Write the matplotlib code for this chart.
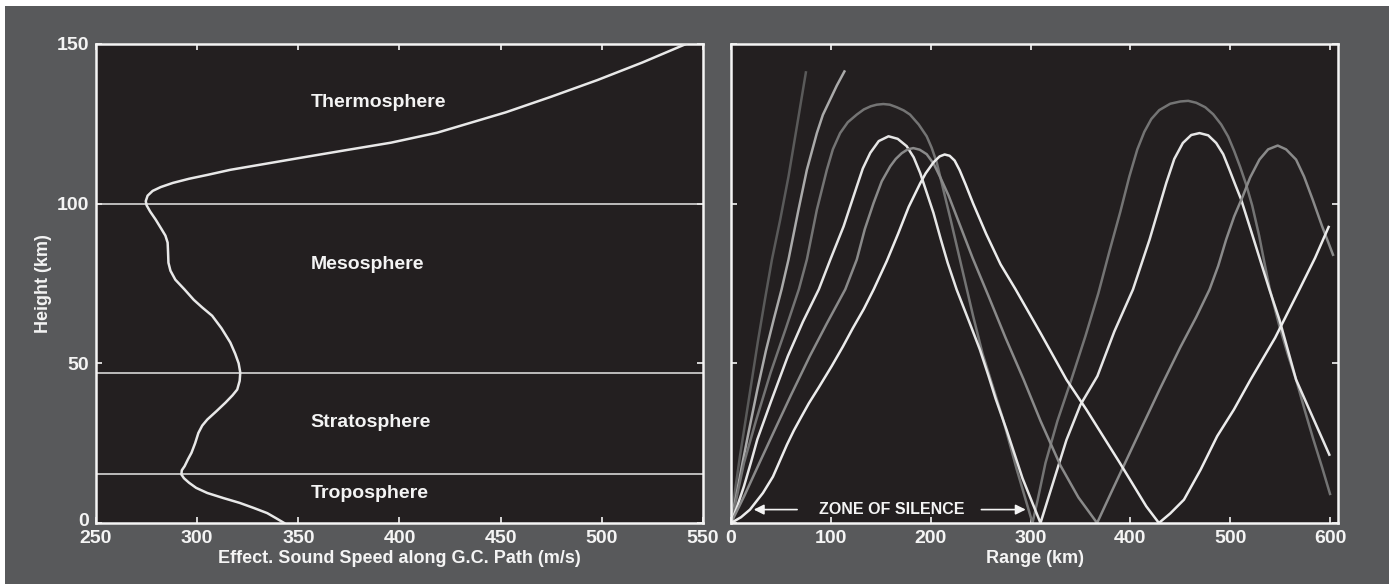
import matplotlib
matplotlib.use('Agg')
import matplotlib.pyplot as plt
from matplotlib.patches import Rectangle
from matplotlib.transforms import ScaledTranslation

# profil de celerite effective (m/s) selon l'altitude (km)
celerite = [343, 339, 334.6, 328, 321, 313, 305, 299.5, 296, 293.5, 292.2, 292.4, 293.8,
            295.5, 297.2, 299, 300.6, 302.5, 305, 309.5, 314, 317.5, 319.8, 321, 321.3,
            320.5, 318.8, 316.4, 312, 307.4, 302.5, 298.3, 293.8, 289.2, 286.8, 285.8,
            285.6, 285.4, 284.3, 282.4, 279.5, 276.8, 275, 274.6, 275.5, 278, 282, 288,
            296, 305, 316.4, 333, 350.5, 373, 395.8, 418.5, 452.5, 475, 497.8,
            520, 541.6]
altitude = [0, 1.5, 3.1, 4.7, 6.3, 7.8, 9.4, 11, 12.6, 14, 15.2, 16.5, 17.8,
            20, 22, 25, 28.2, 30.5, 32.4, 35, 37.7, 40, 41.8, 44.5, 47.1,
            50, 53, 56.5, 61, 64.9, 67.5, 69.9, 73.1, 76.2, 79, 81.5,
            85, 87.8, 90, 92, 95, 97.5, 99.5, 100.8, 102.5, 104, 105.2, 106.5,
            107.8, 109, 110.6, 112.4, 114.3, 116.7, 119.1, 122.2, 128.6, 133.5, 138.7,
            144.2, 150]

# limites des couches et noms
limites = [100, 46.9, 15.4]
couches = ['Thermosphere', 'Mesosphere', 'Stratosphere', 'Troposphere']
couches_h = [131.6, 80.9, 31.4, 9.2]

# rayons sonores : distance (km) et altitude (km)
ray1_r = [0, 4, 9, 14, 20, 27, 34, 41, 49.3, 57.6, 66, 75]
ray1_h = [0, 10, 21, 31, 43, 57, 70, 82.5, 95, 108.5, 124.2, 141.1]

ray2_r = [0, 5, 11, 18, 26.4, 35, 43, 50.7, 57.6, 67.6, 76, 86, 92, 99.3, 106, 113.6]
ray2_h = [0, 8, 18, 29, 41.8, 54, 64, 73.2, 82.5, 98.1, 110.6, 122.1, 127.8, 132.6, 137, 141.4]

ray3_r = [0, 5, 13, 25, 39.6, 55, 68, 76, 86, 96, 102, 109.3, 117, 126, 133, 140, 146,
          152.6, 159, 166, 173, 179.3, 188, 196, 201, 206, 213, 220, 229.3, 242.6, 252,
          262.5, 272, 286, 302,
          307, 315, 327, 341, 355, 368, 379, 390, 399, 407, 414, 421, 429, 440, 450,
          458, 466, 475, 483, 491, 498, 504, 510, 516, 522, 529, 534, 539.5, 549, 558,
          566, 575, 583, 592, 600]
ray3_h = [0, 7, 18.8, 32, 47, 61, 73.2, 82.5, 98.1, 110.6, 117, 122.1, 125.5, 127.9, 129.5, 130.5, 131,
          131.2, 131, 130.2, 129.2, 127.9, 124.8, 121.1, 117.5, 113, 104, 95, 82.5, 64.7, 53,
          42.5, 33, 17, 0,
          7, 18.8, 32, 45, 58.5, 72, 85, 97.5, 108.5, 117, 122.5, 126.5, 129.3, 131.3, 132,
          132.2, 131.6, 130.2, 128, 124.8, 121, 116.5, 111.5, 106, 99.5, 90, 82, 73.5, 62, 52.5,
          44.9, 35, 26.5, 17.5, 9.1]

ray4_r = [0, 6, 13, 20, 26.4, 40, 57, 72, 88, 99.5, 112.8, 126, 132, 139.5, 148, 157.8, 167,
          176, 183, 189.5, 196, 202.8, 210, 217, 226, 238, 249.3, 258, 265, 276, 292, 310,
          318, 327, 336, 350, 367, 384, 402.6, 419.3, 436, 444, 452.6, 461, 469.3, 478,
          486, 493, 499.3, 505, 511, 522.6, 539.3, 549.3, 566, 599.3]
ray4_h = [0, 5, 11.5, 19, 26.2, 38, 52.3, 63, 73.2, 82.5, 92.9, 105.4, 111, 115.9, 119.6, 121.1, 120.3,
          118, 114.5, 109.6, 103.5, 97.1, 89, 81.5, 73.1, 63.5, 54.3, 46, 39, 29.2, 14, 0,
          8, 17, 26, 37, 46, 60, 73.1, 88.8, 106.5, 114, 119, 121.5, 122.1, 121.4,
          119, 115.5, 110.6, 106, 101.3, 89.8, 73.1, 63.7, 44.9, 21.4]

ray5_r = [0, 13.2, 28, 44, 60, 79, 96, 114.5, 126, 134, 142.8, 151, 159.5, 165, 171, 177,
          182.6, 189, 196, 203, 210, 218, 226, 242, 258, 275, 293, 310, 330, 348, 366.7,
          380, 398, 413, 429.3, 450, 466, 479.3, 488, 496, 504, 512.6, 520, 529.3, 538,
          547.6, 556, 566, 574, 582.6, 592, 603]
ray5_h = [0, 8.4, 18.5, 29.3, 40, 52.3, 62.5, 73.2, 82.5, 92, 100.2, 107, 111.7, 114, 115.8, 117,
          117.4, 116.9, 115.5, 112.5, 108, 102.5, 96, 83, 71, 58, 45, 32, 18, 8, 0,
          9, 21, 31, 41.8, 55, 64.5, 73.1, 80.5, 88.8, 96, 102.3, 108.2, 113.8, 117,
          118.2, 117, 113.8, 108.5, 101.3, 93, 84]

ray6_r = [0, 10, 19, 32, 42, 49, 56, 63, 70, 78, 88, 101, 112, 122, 133, 143, 156, 167.4, 178,
          189.4, 195, 203, 209, 214, 219, 224, 229, 235, 242.6, 255.5, 270, 285, 310, 336,
          356, 389.5, 416, 428.6,
          440, 453.7, 470.4, 487, 503.7, 520.4, 545, 569.3, 585, 598.6]
ray6_h = [0, 1.8, 4.2, 9.4, 14.5, 19.5, 24.5, 29, 33, 37.5, 42.5, 49.2, 55.2, 61, 67, 73.2, 82, 90.6, 99,
          106.3, 109.5, 113, 114.8, 115.4, 115, 113.5, 110.5, 106, 100, 90.6, 81, 73.2, 59.5, 44.9,
          35.5, 18.8, 5.2, 0,
          3, 7.3, 16.7, 27.2, 35.5, 44.9, 58, 73.1, 83, 92.7]

rayons = [(ray1_r, ray1_h, '#5a5a5a'), (ray2_r, ray2_h, '#aaaaaa'),
          (ray3_r, ray3_h, '#747474'), (ray4_r, ray4_h, '#e6e6e6'),
          (ray5_r, ray5_h, '#8a8a8a'), (ray6_r, ray6_h, '#ececec')]

fond = '#58595b'
noir = '#231f20'
blanc = '#f4f4f4'

plt.rcParams['font.family'] = ['Liberation Sans Narrow', 'Liberation Sans', 'DejaVu Sans']
plt.rcParams['font.weight'] = 'bold'

fig = plt.figure(figsize=(13.89, 5.84), dpi=100)
fig.patch.set_facecolor('white')
fig.add_artist(Rectangle((5/1389, 0), 1, 1 - 6/584, transform=fig.transFigure,
                         facecolor=fond, edgecolor='none', zorder=0))

ax1 = fig.add_axes([96/1389, 61/584, 607/1389, 479/584])
ax2 = fig.add_axes([731/1389, 61/584, 607/1389, 479/584])


def style(ax):
    ax.set_facecolor(noir)
    for s in ax.spines.values():
        s.set_color(blanc)
        s.set_linewidth(1.8)
    ax.tick_params(direction='in', length=4, width=1.2, color=blanc,
                   top=True, right=True, labelcolor=blanc, labelsize=14, pad=5)
    for lab in ax.get_xticklabels() + ax.get_yticklabels():
        lab.set_fontweight('bold')


# panneau gauche : profil
ax1.plot(celerite, altitude, color='#e8e8e8', lw=1.8, zorder=3, solid_joinstyle='round')
for h in limites:
    ax1.axhline(h, color='#e6e6e6', lw=1.1, zorder=2)
for nom, h in zip(couches, couches_h):
    ax1.text(356, h, nom, color=blanc, fontsize=14, fontweight='bold',
             ha='left', va='center')
ax1.set_xlim(250, 550)
ax1.set_ylim(0, 150)
ax1.set_xticks(range(250, 551, 50))
ax1.set_yticks([0, 50, 100, 150])
ax1.set_xlabel('Effect. Sound Speed along G.C. Path (m/s)', color=blanc,
               fontsize=13, fontweight='bold', labelpad=2.5)
ax1.set_ylabel('Height (km)', color=blanc, fontsize=13, fontweight='bold', labelpad=3)
style(ax1)
# le "0" de l'axe vertical remonte un peu pour ne pas toucher le "250"
lab0 = ax1.get_yticklabels()[0]
lab0.set_transform(lab0.get_transform() + ScaledTranslation(0, 4/100, fig.dpi_scale_trans))

# panneau droit : trajets des rayons
for r, h, c in rayons:
    ax2.plot(r, h, color=c, lw=1.8, solid_joinstyle='round')
ax2.set_xlim(0, 608)
ax2.set_ylim(0, 150)
ax2.set_xticks(range(0, 601, 100))
ax2.set_yticks([0, 50, 100, 150])
ax2.set_yticklabels([])
ax2.set_xlabel('Range (km)', color=blanc, fontsize=13, fontweight='bold', labelpad=2.5)
style(ax2)

# zone de silence
ax2.text(161, 4.2, 'ZONE OF SILENCE', color=blanc, fontsize=11.5, fontweight='bold',
         ha='center', va='center')
ax2.annotate('', xy=(20, 4.2), xytext=(69, 4.2),
             arrowprops=dict(arrowstyle='-|>', color=blanc, lw=1.2, mutation_scale=15))
ax2.annotate('', xy=(298, 4.2), xytext=(248, 4.2),
             arrowprops=dict(arrowstyle='-|>', color=blanc, lw=1.2, mutation_scale=15))

plt.savefig('out.png', dpi=100, facecolor=fig.get_facecolor())
